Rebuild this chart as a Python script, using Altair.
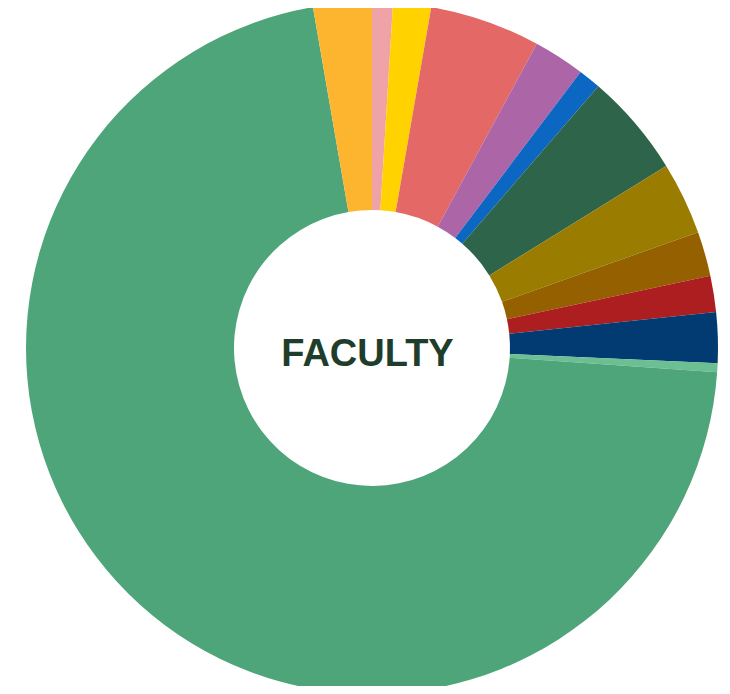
import altair as alt
import pandas as pd

categories = ["Pink", "Yellow", "Salmon", "Purple", "Blue", "Dark green", "Olive",
              "Brown", "Dark red", "Navy", "Light green", "Green", "Orange"]
values = [0.97, 1.77, 5.16, 2.40, 1.05, 4.83, 3.39, 2.08, 1.69, 2.36, 0.42, 71.15, 2.73]
colors = ["#EFA3A6", "#FFD200", "#E46866", "#AC65A6", "#0B67C1", "#2E654A", "#9A7D00",
          "#946000", "#AC1E20", "#013B72", "#6CBF93", "#4FA57A", "#FDB52F"]
center_label = ["FACULTY"]

df = pd.DataFrame({"cat": categories, "value": values, "order": list(range(len(categories)))})

arc = alt.Chart(df).mark_arc(innerRadius=138, outerRadius=346).encode(
    theta=alt.Theta("value:Q", stack=True),
    order=alt.Order("order:Q"),
    color=alt.Color("cat:N", scale=alt.Scale(domain=categories, range=colors), legend=None),
    x=alt.value(364),
    y=alt.value(340),
)

text = alt.Chart(pd.DataFrame({"t": center_label})).mark_text(
    font="Liberation Sans", fontWeight="bold", fontSize=38, color="#1E3D2B",
    align="center", baseline="alphabetic"
).encode(text="t:N", x=alt.value(359.5), y=alt.value(357.5))

chart = alt.layer(arc, text).properties(
    width=714, height=678, padding=0, autosize=alt.AutoSizeParams(type="none")
).configure_view(stroke=None)

chart.save("out.html", embed_options={"renderer": "svg", "actions": False})
